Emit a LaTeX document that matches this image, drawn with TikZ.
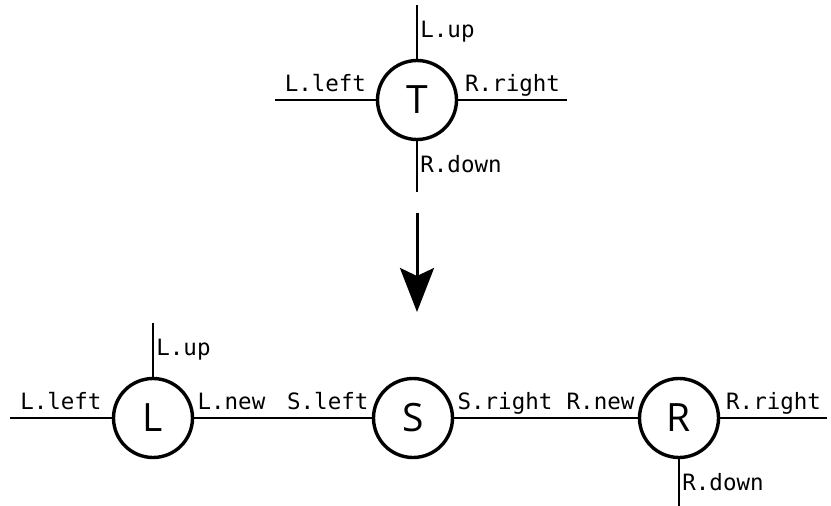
\documentclass[tikz,border=0pt]{standalone}
\usepackage{fontspec}
\usetikzlibrary{arrows.meta}
\newfontfamily\labfont{DejaVu Sans Mono}
\newfontfamily\circfont{Open Sans}
\begin{document}
\begin{tikzpicture}[x=1pt,y=-1pt,
  wire/.style={line width=2.8pt},
  vert/.style={circle,draw,line width=3.4pt,minimum size=79pt,inner sep=0pt,
    font=\circfont\fontsize{39}{39}\selectfont},
  lab/.style={font=\labfont\fontsize{22.5}{22.5}\selectfont,inner sep=2pt,
    text height=16pt,text depth=5pt}]
\useasboundingbox (0,0) rectangle (831,506);
% top
\node[vert] (T) at (417,100) {T};
\coordinate (Tu) at (417,5);
\coordinate (Td) at (417,192);
\coordinate (Tl) at (275,100);
\coordinate (Tr) at (567,100);
\draw[wire] (T.north) -- node[lab,anchor=west] {L.up} (Tu);
\draw[wire] (T.south) -- node[lab,anchor=west] {R.down} (Td);
\draw[wire] (Tl) -- node[lab,anchor=south] {L.left} (T.west);
\draw[wire] (T.east) -- node[lab,anchor=south] {R.right} (Tr);
% arrow
\coordinate (A1) at (417,213);
\coordinate (A2) at (417,312);
\draw[line width=3pt,-{Stealth[length=44pt,width=34pt,inset=8pt]}] (A1) -- (A2);
% bottom
\node[vert] (L) at (153,418) {L};
\node[vert] (S) at (413,418) {S};
\node[vert] (R) at (679,418) {R};
\coordinate (Lu) at (153,323);
\coordinate (Ll) at (10,418);
\coordinate (Rr) at (827,418);
\coordinate (Rd) at (679,506);
\draw[wire] (L.north) -- node[lab,anchor=west] {L.up} (Lu);
\draw[wire] (Ll) -- node[lab,anchor=south] {L.left} (L.west);
\draw[wire] (L.east) -- node[pos=0,lab,anchor=south west] {L.new}
  node[pos=1,lab,anchor=south east] {S.left} (S.west);
\draw[wire] (S.east) -- node[pos=0,lab,anchor=south west] {S.right}
  node[pos=1,lab,anchor=south east] {R.new} (R.west);
\draw[wire] (R.east) -- node[lab,anchor=south] {R.right} (Rr);
\draw[wire] (R.south) -- node[pos=0.55,lab,anchor=west] {R.down} (Rd);
\end{tikzpicture}
\end{document}
